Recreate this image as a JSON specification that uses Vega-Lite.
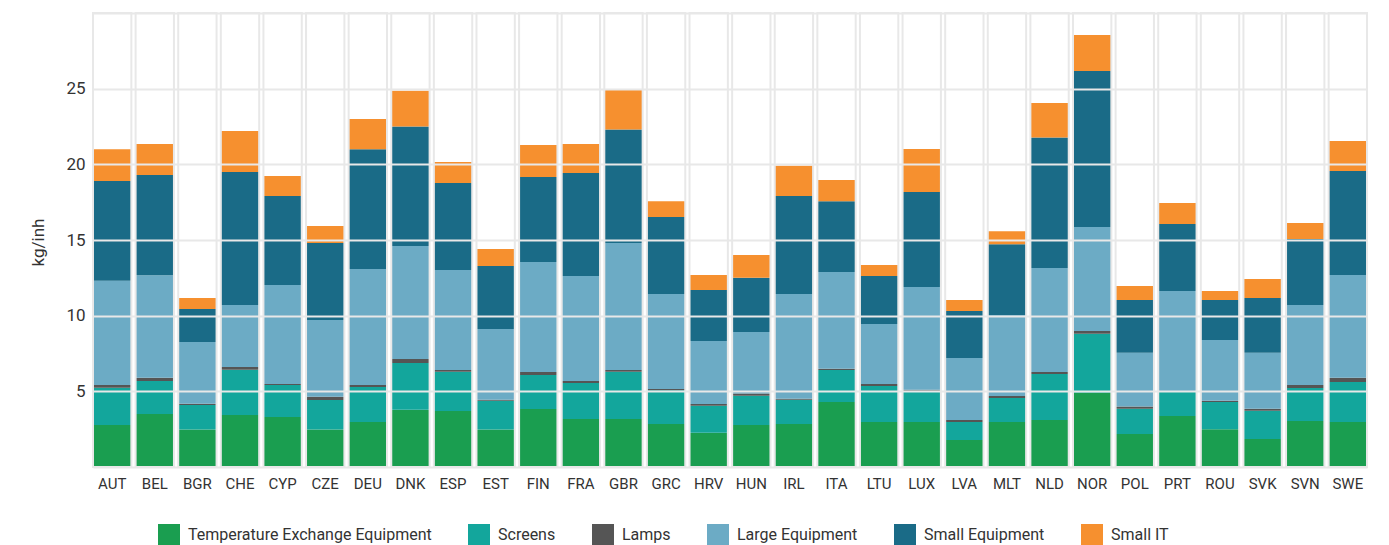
{
  "$schema": "https://vega.github.io/schema/vega-lite/v6.json",
  "width": 1274,
  "height": 454,
  "autosize": {"type": "none"},
  "padding": {"left": 93, "top": 13, "right": 22, "bottom": 78},
  "background": "white",
  "config": {
    "view": {"stroke": null},
    "font": "Roboto",
    "axis": {"labelFont": "Roboto", "titleFont": "Roboto"},
    "legend": {"labelFont": "Roboto"}
  },
  "datasets": {
    "weee": [
      {"country": "AUT", "Temperature Exchange Equipment": 2.78, "Screens": 2.46, "Lamps": 0.18, "Large Equipment": 6.88, "Small Equipment": 6.6, "Small IT": 2.1},
      {"country": "BEL", "Temperature Exchange Equipment": 3.5, "Screens": 2.18, "Lamps": 0.22, "Large Equipment": 6.77, "Small Equipment": 6.63, "Small IT": 2.05},
      {"country": "BGR", "Temperature Exchange Equipment": 2.48, "Screens": 1.62, "Lamps": 0.08, "Large Equipment": 4.08, "Small Equipment": 2.18, "Small IT": 0.73},
      {"country": "CHE", "Temperature Exchange Equipment": 3.44, "Screens": 2.99, "Lamps": 0.17, "Large Equipment": 4.1, "Small Equipment": 8.8, "Small IT": 2.7},
      {"country": "CYP", "Temperature Exchange Equipment": 3.3, "Screens": 2.12, "Lamps": 0.07, "Large Equipment": 6.54, "Small Equipment": 5.87, "Small IT": 1.33},
      {"country": "CZE", "Temperature Exchange Equipment": 2.48, "Screens": 1.95, "Lamps": 0.22, "Large Equipment": 5.07, "Small Equipment": 5.08, "Small IT": 1.13},
      {"country": "DEU", "Temperature Exchange Equipment": 2.97, "Screens": 2.32, "Lamps": 0.13, "Large Equipment": 7.67, "Small Equipment": 7.91, "Small IT": 2.0},
      {"country": "DNK", "Temperature Exchange Equipment": 3.79, "Screens": 3.08, "Lamps": 0.27, "Large Equipment": 7.46, "Small Equipment": 7.9, "Small IT": 2.37},
      {"country": "ESP", "Temperature Exchange Equipment": 3.7, "Screens": 2.6, "Lamps": 0.11, "Large Equipment": 6.61, "Small Equipment": 5.75, "Small IT": 1.39},
      {"country": "EST", "Temperature Exchange Equipment": 2.48, "Screens": 1.9, "Lamps": 0.07, "Large Equipment": 4.67, "Small Equipment": 4.16, "Small IT": 1.13},
      {"country": "FIN", "Temperature Exchange Equipment": 3.83, "Screens": 2.25, "Lamps": 0.2, "Large Equipment": 7.27, "Small Equipment": 5.62, "Small IT": 2.11},
      {"country": "FRA", "Temperature Exchange Equipment": 3.17, "Screens": 2.38, "Lamps": 0.13, "Large Equipment": 6.94, "Small Equipment": 6.81, "Small IT": 1.92},
      {"country": "GBR", "Temperature Exchange Equipment": 3.17, "Screens": 3.13, "Lamps": 0.11, "Large Equipment": 8.39, "Small Equipment": 7.5, "Small IT": 2.64},
      {"country": "GRC", "Temperature Exchange Equipment": 2.84, "Screens": 2.23, "Lamps": 0.09, "Large Equipment": 6.27, "Small Equipment": 5.09, "Small IT": 1.04},
      {"country": "HRV", "Temperature Exchange Equipment": 2.27, "Screens": 1.78, "Lamps": 0.11, "Large Equipment": 4.17, "Small Equipment": 3.37, "Small IT": 0.99},
      {"country": "HUN", "Temperature Exchange Equipment": 2.78, "Screens": 1.93, "Lamps": 0.14, "Large Equipment": 4.07, "Small Equipment": 3.59, "Small IT": 1.5},
      {"country": "IRL", "Temperature Exchange Equipment": 2.84, "Screens": 1.61, "Lamps": 0.06, "Large Equipment": 6.92, "Small Equipment": 6.48, "Small IT": 2.0},
      {"country": "ITA", "Temperature Exchange Equipment": 4.3, "Screens": 2.11, "Lamps": 0.09, "Large Equipment": 6.39, "Small Equipment": 4.67, "Small IT": 1.41},
      {"country": "LTU", "Temperature Exchange Equipment": 2.97, "Screens": 2.38, "Lamps": 0.14, "Large Equipment": 3.96, "Small Equipment": 3.17, "Small IT": 0.73},
      {"country": "LUX", "Temperature Exchange Equipment": 2.97, "Screens": 2.07, "Lamps": 0.07, "Large Equipment": 6.79, "Small Equipment": 6.28, "Small IT": 2.84},
      {"country": "LVA", "Temperature Exchange Equipment": 1.78, "Screens": 1.19, "Lamps": 0.14, "Large Equipment": 4.09, "Small Equipment": 3.11, "Small IT": 0.73},
      {"country": "MLT", "Temperature Exchange Equipment": 2.97, "Screens": 1.59, "Lamps": 0.13, "Large Equipment": 5.36, "Small Equipment": 4.67, "Small IT": 0.86},
      {"country": "NLD", "Temperature Exchange Equipment": 3.11, "Screens": 3.04, "Lamps": 0.13, "Large Equipment": 6.87, "Small Equipment": 8.62, "Small IT": 2.29},
      {"country": "NOR", "Temperature Exchange Equipment": 4.91, "Screens": 3.9, "Lamps": 0.18, "Large Equipment": 6.87, "Small Equipment": 10.31, "Small IT": 2.38},
      {"country": "POL", "Temperature Exchange Equipment": 2.18, "Screens": 1.67, "Lamps": 0.14, "Large Equipment": 3.56, "Small Equipment": 3.49, "Small IT": 0.92},
      {"country": "PRT", "Temperature Exchange Equipment": 3.37, "Screens": 1.59, "Lamps": 0.06, "Large Equipment": 6.61, "Small Equipment": 4.43, "Small IT": 1.39},
      {"country": "ROU", "Temperature Exchange Equipment": 2.5, "Screens": 1.8, "Lamps": 0.08, "Large Equipment": 4.01, "Small Equipment": 2.65, "Small IT": 0.59},
      {"country": "SVK", "Temperature Exchange Equipment": 1.85, "Screens": 1.87, "Lamps": 0.13, "Large Equipment": 3.7, "Small Equipment": 3.62, "Small IT": 1.26},
      {"country": "SVN", "Temperature Exchange Equipment": 3.04, "Screens": 2.18, "Lamps": 0.2, "Large Equipment": 5.29, "Small Equipment": 4.36, "Small IT": 1.06},
      {"country": "SWE", "Temperature Exchange Equipment": 2.97, "Screens": 2.65, "Lamps": 0.28, "Large Equipment": 6.79, "Small Equipment": 6.87, "Small IT": 1.99}
    ]
  },
  "data": {"name": "weee"},
  "layer": [
    {
      "transform": [
        {"fold": ["Temperature Exchange Equipment", "Screens", "Lamps", "Large Equipment", "Small Equipment", "Small IT"], "as": ["category", "value"]},
        {"window": [{"op": "row_number", "as": "stackRank"}], "groupby": ["country"]}
      ],
      "mark": {"type": "bar"},
      "encoding": {
        "x": {
          "field": "country", "type": "nominal", "sort": null,
          "scale": {"paddingInner": 0.1, "paddingOuter": 0},
          "axis": {"title": null, "labelAngle": 0, "domain": false, "ticks": false, "labelFontSize": 15, "labelColor": "#333333", "labelPadding": 9, "grid": false}
        },
        "y": {
          "field": "value", "type": "quantitative", "stack": "zero",
          "scale": {"domain": [0, 30], "nice": false},
          "axis": {
            "title": "kg/inh", "titleFontSize": 17, "titleFontWeight": "normal", "titleColor": "#333333",
            "titleAngle": -90, "titleX": -55, "titleY": 229, "titleAlign": "center", "titleBaseline": "middle",
            "values": [0, 2.5, 5, 7.5, 10, 12.5, 15, 17.5, 20, 22.5, 25, 27.5, 30],
            "labelExpr": "(datum.value % 5 == 0 && datum.value > 0 && datum.value < 30) ? datum.label : ''",
            "domain": false, "ticks": false, "labelFontSize": 17, "labelColor": "#333333", "labelPadding": 8,
            "grid": true, "gridColor": "#e8e8e8", "gridWidth": 2, "zindex": 1
          }
        },
        "order": {"field": "stackRank", "type": "quantitative", "sort": "ascending"},
        "color": {
          "field": "category", "type": "nominal",
          "scale": {
            "domain": ["Temperature Exchange Equipment", "Screens", "Lamps", "Large Equipment", "Small Equipment", "Small IT"],
            "range": ["#1a9e50", "#13a69c", "#555555", "#6cabc5", "#1a6b87", "#f6902f"]
          },
          "legend": {
            "title": null, "orient": "none", "legendX": 65, "legendY": 511, "direction": "horizontal", "columns": 6,
            "padding": 0, "columnPadding": 36, "symbolType": "square", "symbolSize": 484, "symbolStrokeWidth": 0,
            "labelOffset": 8, "labelFontSize": 16, "labelColor": "#333333", "labelLimit": 400
          }
        }
      }
    },
    {
      "mark": {"type": "bar", "fill": null, "fillOpacity": 0, "stroke": "#e8e8e8", "strokeWidth": 2},
      "encoding": {
        "x": {"field": "country", "type": "nominal", "sort": null},
        "y": {"datum": 30}
      }
    }
  ]
}
